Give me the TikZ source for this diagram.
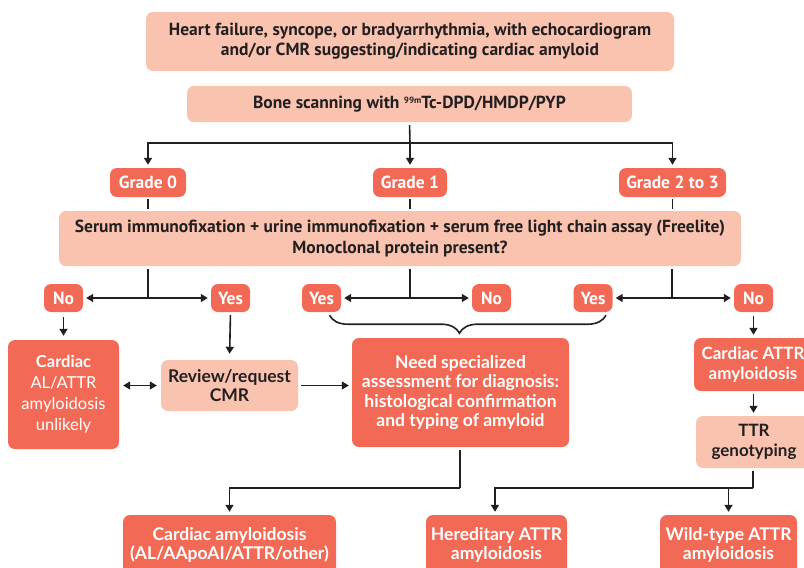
\documentclass[tikz,border=0pt]{standalone}
\usepackage{fontspec}
\setmainfont{Lato}
\newfontfamily\cond{PT Sans}
\usetikzlibrary{arrows.meta,decorations.pathreplacing,calc}
\definecolor{lightbox}{HTML}{F9C3B0}
\definecolor{darkbox}{HTML}{F26A55}
\definecolor{ink}{HTML}{231F20}
\begin{document}
\begin{tikzpicture}[x=1pt,y=-1pt,
  base/.style={rounded corners=7pt,align=center,inner sep=0pt},
  lightn/.style={base,fill=lightbox,text=ink},
  darkn/.style={base,fill=darkbox,text=white},
  condtxt/.style={font=\cond\bfseries\fontsize{17.5}{20}\selectfont},
  latotxt/.style={font=\bfseries\fontsize{17.5}{19.5}\selectfont},
  tag/.style={darkn,condtxt,minimum height=29pt},
  arr/.style={-{Triangle[length=7pt,width=8pt]},line width=1.6pt,draw=ink},
  dbl/.style={{Triangle[length=7pt,width=8pt]}-{Triangle[length=7pt,width=8pt]},line width=1.6pt,draw=ink},
  ln/.style={line width=1.6pt,draw=ink}]
\useasboundingbox (0,0) rectangle (804,568);
\clip (0,0) rectangle (804,568);

\node[lightn,condtxt,minimum width=528pt,minimum height=59pt] (top) at (410,41.5)
  {\raisebox{-2.5pt}{\shortstack{Heart failure, syncope, or bradyarrhythmia, with echocardiogram\\[1pt]and/or CMR suggesting/indicating cardiac amyloid}}};
\node[lightn,condtxt,minimum width=445pt,minimum height=36pt] (bone) at (409.5,104)
  {\raisebox{-2pt}{Bone scanning with \raisebox{0.6ex}{\fontsize{9}{9}\selectfont 99m}Tc-DPD/HMDP/PYP}};

\node[tag,minimum width=76pt] (g0) at (148,182.5) {Grade 0};
\node[tag,minimum width=74pt] (g1) at (410,182.5) {Grade 1};
\node[tag,minimum width=107pt] (g2) at (672.5,182.5) {Grade 2 to 3};

\node[lightn,condtxt,minimum width=682pt,minimum height=55pt] (serum) at (400,238.5)
  {\raisebox{-2pt}{\shortstack{Serum immunofixation + urine immunofixation + serum free light chain assay (Freelite)\\[1pt]Monoclonal protein present?}}};

\node[tag,minimum width=39pt,minimum height=28pt] (no1) at (63.5,298) {No};
\node[tag,minimum width=39pt,minimum height=28pt] (yes1) at (230.5,298) {Yes};
\node[tag,minimum width=39pt,minimum height=28pt] (yes2) at (321.5,298) {Yes};
\node[tag,minimum width=39pt,minimum height=28pt] (no2) at (491.5,298) {No};
\node[tag,minimum width=39pt,minimum height=28pt] (yes3) at (593,298) {Yes};
\node[tag,minimum width=39pt,minimum height=28pt] (no3) at (753.5,298) {No};

\node[darkn,minimum width=111pt,minimum height=109pt,font=\fontsize{16.5}{21}\selectfont] (unl) at (63.5,394.5)
  {\textbf{Cardiac}\\AL/ATTR\\amyloidosis\\unlikely};
\node[lightn,latotxt,minimum width=137pt,minimum height=51pt] (rev) at (229.5,385.5)
  {Review/request\\CMR};
\node[darkn,latotxt,minimum width=217pt,minimum height=109pt] (need) at (460.5,392.5)
  {Need specialized\\assessment for diagnosis:\\histological confirmation\\and typing of amyloid};
\node[darkn,latotxt,minimum width=118pt,minimum height=53pt,font=\bfseries\fontsize{17}{19.5}\selectfont] (cattr) at (753,364.5)
  {Cardiac ATTR\\amyloidosis};
\node[lightn,latotxt,minimum width=116pt,minimum height=52pt,font=\bfseries\fontsize{17}{19.5}\selectfont] (ttr) at (754,442)
  {TTR\\genotyping};

\node[darkn,latotxt,minimum width=213pt,minimum height=60pt] (ca) at (229.5,545)
  {Cardiac amyloidosis\\(AL/AApoAI/ATTR/other)};
\node[darkn,latotxt,minimum width=141pt,minimum height=60pt] (her) at (496.5,545)
  {Hereditary ATTR\\amyloidosis};
\node[darkn,latotxt,minimum width=137pt,minimum height=60pt] (wild) at (728.5,545)
  {Wild-type ATTR\\amyloidosis};

% bone -> grades
\coordinate (j0) at (410,143);
\draw[ln,shorten <=3pt] (bone.south) -- (j0);
\draw[arr,shorten >=3pt] (j0) -| (g0.north);
\draw[arr,shorten >=3pt] (j0) -- (g1.north);
\draw[arr,shorten >=3pt] (j0) -| (g2.north);

% grades -> serum
\draw[ln,shorten <=2pt,shorten >=2pt] (g0.south) -- (g0.south |- serum.north);
\draw[ln,shorten <=2pt,shorten >=2pt] (g1.south) -- (g1.south |- serum.north);
\draw[ln,shorten <=2pt,shorten >=2pt] (g2.south) -- (g2.south |- serum.north);

% serum -> yes/no
\coordinate (j1) at (148,298);
\coordinate (j2) at (410,298);
\coordinate (j3) at (672,298);
\foreach \j/\a/\b in {j1/no1/yes1, j2/yes2/no2, j3/yes3/no3}{
  \draw[ln,shorten <=3pt] (serum.south -| \j) -- (\j);
  \draw[arr,shorten >=3pt] (\j) -- (\a.east);
  \draw[arr,shorten >=3pt] (\j) -- (\b.west);
}

% brace
\draw[ln,decorate,decoration={brace,mirror,amplitude=18pt,aspect=0.47}]
  ($(yes2.south)+(8,3)$) -- ($(yes3.south)+(13,3)$);

\draw[arr,shorten <=5pt,shorten >=4pt] (no1.south) -- (unl.north);
\draw[arr,shorten <=3pt,shorten >=6pt] (yes1.south) -- (rev.north);
\draw[dbl,shorten <=4pt,shorten >=4pt] (unl.east |- rev.west) -- (rev.west);
\draw[arr,shorten <=3pt,shorten >=3pt] (rev.east) -- (rev.east -| need.west);
\draw[arr,shorten <=4pt,shorten >=3pt] (no3.south) -- (no3.south |- cattr.north);
\draw[arr,shorten <=3pt,shorten >=3pt] (no3.south |- cattr.south) -- (no3.south |- ttr.north);

% bottom splits
\coordinate (j4) at (460,488);
\draw[ln,shorten <=3pt] (need.south -| j4) -- (j4);
\draw[arr,shorten >=3pt] (j4) -| (ca.north);
\coordinate (j5) at (753,488);
\draw[ln,shorten <=3pt] (ttr.south -| j5) -- (j5);
\draw[arr,shorten >=3pt] (j5) -| ($(her.north)+(-1.5,0)$);
\draw[arr,shorten >=3pt] (j5) -| (wild.north);
\end{tikzpicture}
\end{document}
